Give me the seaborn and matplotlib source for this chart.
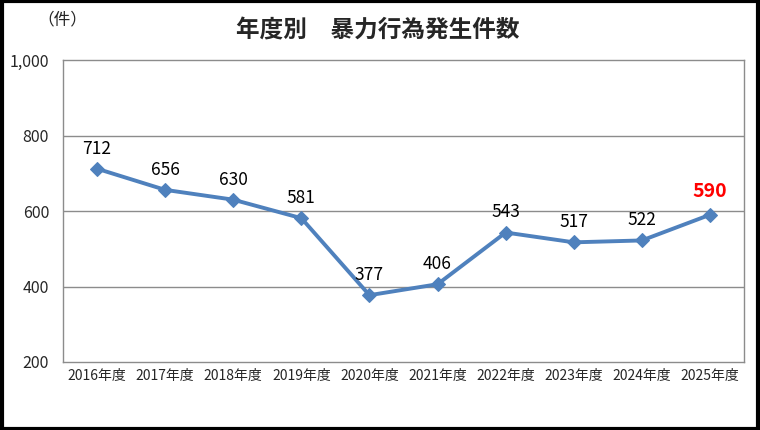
import matplotlib
matplotlib.use("Agg")
import matplotlib.pyplot as plt
import seaborn as sns
import pandas as pd
from matplotlib.ticker import FuncFormatter
from matplotlib.patches import Rectangle

years = ["2016年度", "2017年度", "2018年度", "2019年度", "2020年度",
         "2021年度", "2022年度", "2023年度", "2024年度", "2025年度"]
counts = [712, 656, 630, 581, 377, 406, 543, 517, 522, 590]
yticks = [200, 400, 600, 800, 1000]

sns.set_theme(style="white")
plt.rcParams['font.family'] = ['Noto Sans CJK JP', 'DejaVu Sans']

df = pd.DataFrame({"year": years, "count": counts})

fig = plt.figure(figsize=(7.6, 4.3), dpi=100)
ax = fig.add_axes([63/760, 1-362/430, 681/760, 302/430])

color = "#4F81BD"
sns.lineplot(data=df, x="year", y="count", ax=ax, color=color, linewidth=2.8,
             marker="D", markersize=7, markeredgecolor=color, sort=False)

ax.set_xlim(-0.5, len(years) - 0.5)
ax.set_ylim(200, 1000)
ax.set_yticks(yticks)
ax.yaxis.set_major_formatter(FuncFormatter(lambda v, p: f"{int(v):,}"))
for y in yticks[1:-1]:
    ax.axhline(y, color="#8c8c8c", linewidth=1, zorder=0)
ax.set_xlabel("")
ax.set_ylabel("")
ax.tick_params(axis="x", labelsize=10, length=0, pad=5)
ax.tick_params(axis="y", labelsize=11.5, length=0, pad=10)
for s in ax.spines.values():
    s.set_color("#8c8c8c")
    s.set_linewidth(1)

for i, v in enumerate(counts):
    if i == len(counts) - 1:
        ax.annotate(f"{v}", (i, v), xytext=(0, 10), textcoords="offset points",
                    ha="center", va="bottom", fontsize=14, color="red", fontweight="bold")
    else:
        ax.annotate(f"{v}", (i, v), xytext=(0, 8), textcoords="offset points",
                    ha="center", va="bottom", fontsize=12.5, color="black")

fig.text(378/760, 1 - 30/430, "年度別　暴力行為発生件数", ha="center", va="center",
         fontsize=17, fontweight="bold")
fig.text(62/760, 1 - 20/430, "（件）", ha="center", va="center", fontsize=12)

fig.patches.append(Rectangle((0.002, 0.003), 0.995, 0.994, transform=fig.transFigure,
                             fill=False, edgecolor="black", linewidth=3))

fig.savefig("out.png", dpi=100)
